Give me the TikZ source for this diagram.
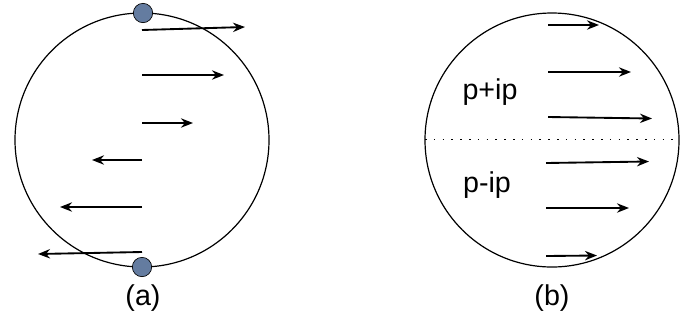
\documentclass[tikz,border=0pt]{standalone}
\usepackage{fontspec}
\setmainfont{Liberation Sans}
\usetikzlibrary{arrows.meta}
\definecolor{dotblue}{RGB}{100,124,160}
\begin{document}
\begin{tikzpicture}[x=0.75pt,y=-0.75pt,
  ring/.style={draw=black, line width=0.9pt},
  vec/.style={draw=black, line width=1.4pt, -{Stealth[length=9pt,width=7pt]}},
  edgept/.style={circle, draw=black, line width=0.5pt, fill=dotblue, minimum size=14.5pt, inner sep=0pt},
  lbl/.style={font=\fontsize{21.5}{26}\selectfont, inner sep=0pt}]
\useasboundingbox (0,0) rectangle (698,326);
% (a)
\draw[ring] (142,140) circle[radius=127];
\coordinate (a1s) at (142,30);  \coordinate (a1e) at (245,27);
\coordinate (a2s) at (142,75);  \coordinate (a2e) at (224,75);
\coordinate (a3s) at (142,123); \coordinate (a3e) at (193,123);
\coordinate (a4s) at (142,160); \coordinate (a4e) at (92,160);
\coordinate (a5s) at (142,207); \coordinate (a5e) at (60,207);
\coordinate (a6s) at (142,252); \coordinate (a6e) at (38,254);
\foreach \i in {1,...,6} \draw[vec] (a\i s) -- (a\i e);
\node[edgept] (topdot) at (143,13) {};
\node[edgept] (botdot) at (142,267) {};
\node[lbl] (la) at (143,298) {(a)};
% (b)
\draw[ring] (552,140) circle[radius=127];
\coordinate (dl) at (425,139.5); \coordinate (dr) at (679,139.5);
\draw[line width=1pt, dash pattern=on 1.2pt off 5.4pt] (dl) -- (dr);
\coordinate (b1s) at (548,25);  \coordinate (b1e) at (599,25);
\coordinate (b2s) at (548,72);  \coordinate (b2e) at (631,72);
\coordinate (b3s) at (548,117); \coordinate (b3e) at (652,118.5);
\coordinate (b4s) at (546,163); \coordinate (b4e) at (649,161.5);
\coordinate (b5s) at (546,208); \coordinate (b5e) at (629,208);
\coordinate (b6s) at (546,256); \coordinate (b6e) at (597,255.5);
\foreach \i in {1,...,6} \draw[vec] (b\i s) -- (b\i e);
\node[lbl] (pp) at (490,92) {p+ip};
\node[lbl] (pm) at (487,185) {p-ip};
\node[lbl] (lb) at (552,298) {(b)};
\end{tikzpicture}
\end{document}
